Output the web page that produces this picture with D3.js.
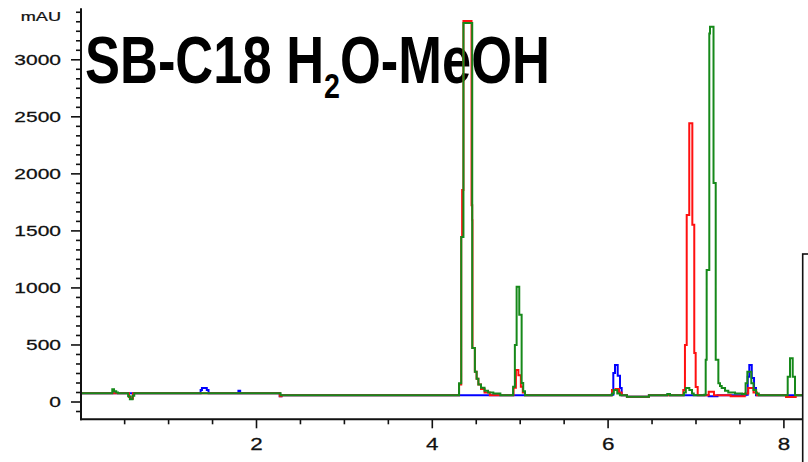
<!DOCTYPE html>
<html><head><meta charset="utf-8">
<script src="https://cdn.jsdelivr.net/npm/d3@7/dist/d3.min.js"></script>
<style>body{margin:0;background:#fff}svg{display:block}</style>
</head><body>
<svg id="chart" width="808" height="462"></svg>
<script>
// ---- data ----
const yMajorTicks = [0, 500, 1000, 1500, 2000, 2500, 3000];
const xMajorTicks = [2, 4, 6, 8];
const xMinorTicks = [0.5, 1, 1.5, 2.5, 3, 3.5, 4.5, 5, 5.5, 6.5, 7, 7.5];
const yUnitLabel = "mAU";
const titleParts = ["SB-C18 H", "2", "O-MeOH"];

// [time (min), absorbance (mAU)]
const blueTrace = [
  [0,72],[1.37,100],[1.385,118],[1.44,100],[1.46,72],[1.80,95],[1.82,72],[2.27,45],[2.29,55],
  [6.04,60],[6.065,250],[6.084,320],[6.115,225],[6.141,118],[6.16,55],
  [6.22,42],[6.47,55],[6.68,62],[6.71,55],[7.15,45],[7.25,55],
  [7.57,60],[7.594,218],[7.612,320],[7.64,205],[7.666,118],[7.688,55],[8.23,55]
];
const redTrace = [
  [0,72],[0.555,40],[0.575,25],[0.60,72],[2.27,45],[2.29,55],
  [4.31,150],[4.335,1442],[4.345,1855],[4.36,3336],[4.452,1720],[4.46,1590],[4.463,470],[4.49,260],[4.51,200],[4.53,150],[4.56,110],[4.60,80],[4.66,55],
  [4.93,120],[4.957,276],[4.985,230],[5.013,130],[5.035,80],[5.06,55],
  [6.05,100],[6.09,110],[6.13,80],[6.16,55],[6.22,42],[6.47,55],
  [6.861,100],[6.88,495],[6.90,1635],[6.929,2440],[6.964,1550],[6.986,425],[7.002,128],[7.025,55],
  [7.15,85],[7.21,55],[7.40,45],[7.56,70],[7.60,118],[7.66,80],[7.70,55],[8.03,40],[8.14,55],[8.23,55]
];
const greenTrace = [
  [0,72],[0.365,108],[0.385,90],[0.41,78],[0.43,72],[0.545,45],[0.565,20],[0.595,50],[0.615,72],[2.28,55],
  [4.31,160],[4.335,1442],[4.36,3318],[4.46,470],[4.49,260],[4.51,200],[4.53,150],[4.56,120],[4.60,95],[4.64,80],[4.70,70],[4.78,55],
  [4.925,130],[4.945,495],[4.965,1006],[4.995,760],[5.022,162],[5.04,90],[5.06,55],
  [6.05,70],[6.07,100],[6.11,70],[6.14,55],[6.22,42],[6.47,55],[6.68,65],[6.71,55],
  [6.87,80],[6.89,118],[6.93,100],[6.96,70],[6.98,55],
  [7.10,60],[7.116,365],[7.127,1153],[7.157,3226],[7.165,3286],[7.205,1915],[7.23,365],[7.26,160],[7.279,136],[7.298,118],[7.336,95],[7.373,80],[7.45,70],[7.53,65],
  [7.57,160],[7.59,260],[7.635,160],[7.66,100],[7.69,70],[7.72,55],
  [8.03,55],[8.049,218],[8.075,380],[8.106,218],[8.132,55],[8.23,55]
];
const seriesColors = {blue:"#0000ff", red:"#ff1010", green:"#16891a"};

// ---- drawing ----
const svg = d3.select("#chart");
const x = d3.scaleLinear().domain([0, 8.223]).range([80.2, 803]);
const y = d3.scaleLinear().domain([-156, 3447]).range([419.3, 8.3]);
const FONT = "'Liberation Sans', Arial, sans-serif";
const SX = 1.4;
const INK = "#111";

// title
const tg = svg.append("g");
const tt = tg.append("text").attr("font-family", FONT).attr("font-weight", "bold")
  .attr("font-size", 66).attr("fill", "#000");
tt.append("tspan").text(titleParts[0]);
tt.append("tspan").attr("font-size", 36).attr("dy", 15).text(titleParts[1]);
tt.append("tspan").attr("dy", -15).text(titleParts[2]);
const bb = tt.node().getBBox();
const tsx = 465 / bb.width;
tg.attr("transform", `translate(${85 - bb.x * tsx},83) scale(${tsx},1)`);

// traces
svg.append("clipPath").attr("id", "plotclip").append("rect")
  .attr("x", 81).attr("y", 0).attr("width", 721.5).attr("height", 419);
const line = d3.line().x(d => x(d[0])).y(d => y(d[1])).curve(d3.curveStepAfter);
const plot = svg.append("g").attr("clip-path", "url(#plotclip)");
[["blue", blueTrace], ["red", redTrace], ["green", greenTrace]].forEach(([k, data]) => {
  plot.append("path").datum(data).attr("d", line)
    .attr("fill", "none").attr("stroke", seriesColors[k])
    .attr("stroke-width", 2).attr("stroke-linejoin", "miter");
});

// y axis
const yMinor = d3.range(-1, 42).map(i => i * 500 / 6).filter(v => Math.abs(v / 500 - Math.round(v / 500)) > 1e-6 && y(v) > 9);
const gyMinor = svg.append("g").attr("transform", "translate(81,0)")
  .call(d3.axisLeft(y).tickValues(yMinor).tickSize(5).tickFormat(""));
const gy = svg.append("g").attr("transform", "translate(81,0)")
  .call(d3.axisLeft(y).tickValues(yMajorTicks).tickSize(10).tickFormat(d3.format("d")));
[gy, gyMinor].forEach(g => {
  g.select(".domain").remove();
  g.selectAll("line").attr("stroke", INK).attr("stroke-width", 1.6);
});
gy.selectAll("text").attr("x", 0).attr("dy", "0.36em")
  .attr("transform", `translate(-20,0) scale(${SX},1)`)
  .attr("font-family", FONT).attr("font-size", 15).attr("fill", INK)
  .attr("stroke", INK).attr("stroke-width", 0.25)
  .attr("text-anchor", "end");
svg.append("text").attr("transform", `translate(61,21) scale(1.45,1)`)
  .attr("text-anchor", "end").attr("font-family", FONT).attr("font-size", 12.5)
  .attr("fill", INK).attr("stroke", INK).attr("stroke-width", 0.25).text(yUnitLabel);

// x axis
const gxMinor = svg.append("g").attr("transform", "translate(0,419.3)")
  .call(d3.axisBottom(x).tickValues(xMinorTicks).tickSize(5).tickFormat(""));
const gx = svg.append("g").attr("transform", "translate(0,419.3)")
  .call(d3.axisBottom(x).tickValues(xMajorTicks).tickSize(9).tickFormat(d3.format("d")));
[gx, gxMinor].forEach(g => {
  g.select(".domain").remove();
  g.selectAll("line").attr("stroke", INK).attr("stroke-width", 1.6);
});
gx.selectAll("text").attr("y", 0).attr("dy", null)
  .attr("transform", `translate(0,30.5) scale(${SX},1)`)
  .attr("font-family", FONT).attr("font-size", 16).attr("fill", INK)
  .attr("stroke", INK).attr("stroke-width", 0.25);

// axis lines
svg.append("line").attr("x1", 81).attr("x2", 81).attr("y1", y.range()[1]).attr("y2", 420.3)
  .attr("stroke", INK).attr("stroke-width", 2);
svg.append("line").attr("x1", 80).attr("x2", 803).attr("y1", 419.3).attr("y2", 419.3)
  .attr("stroke", INK).attr("stroke-width", 2);

// cut-off box at right edge
svg.append("rect").attr("x", 802.7).attr("y", 254).attr("width", 40).attr("height", 260)
  .attr("fill", "#fff").attr("stroke", "#111").attr("stroke-width", 1.6);
</script>
</body></html>
